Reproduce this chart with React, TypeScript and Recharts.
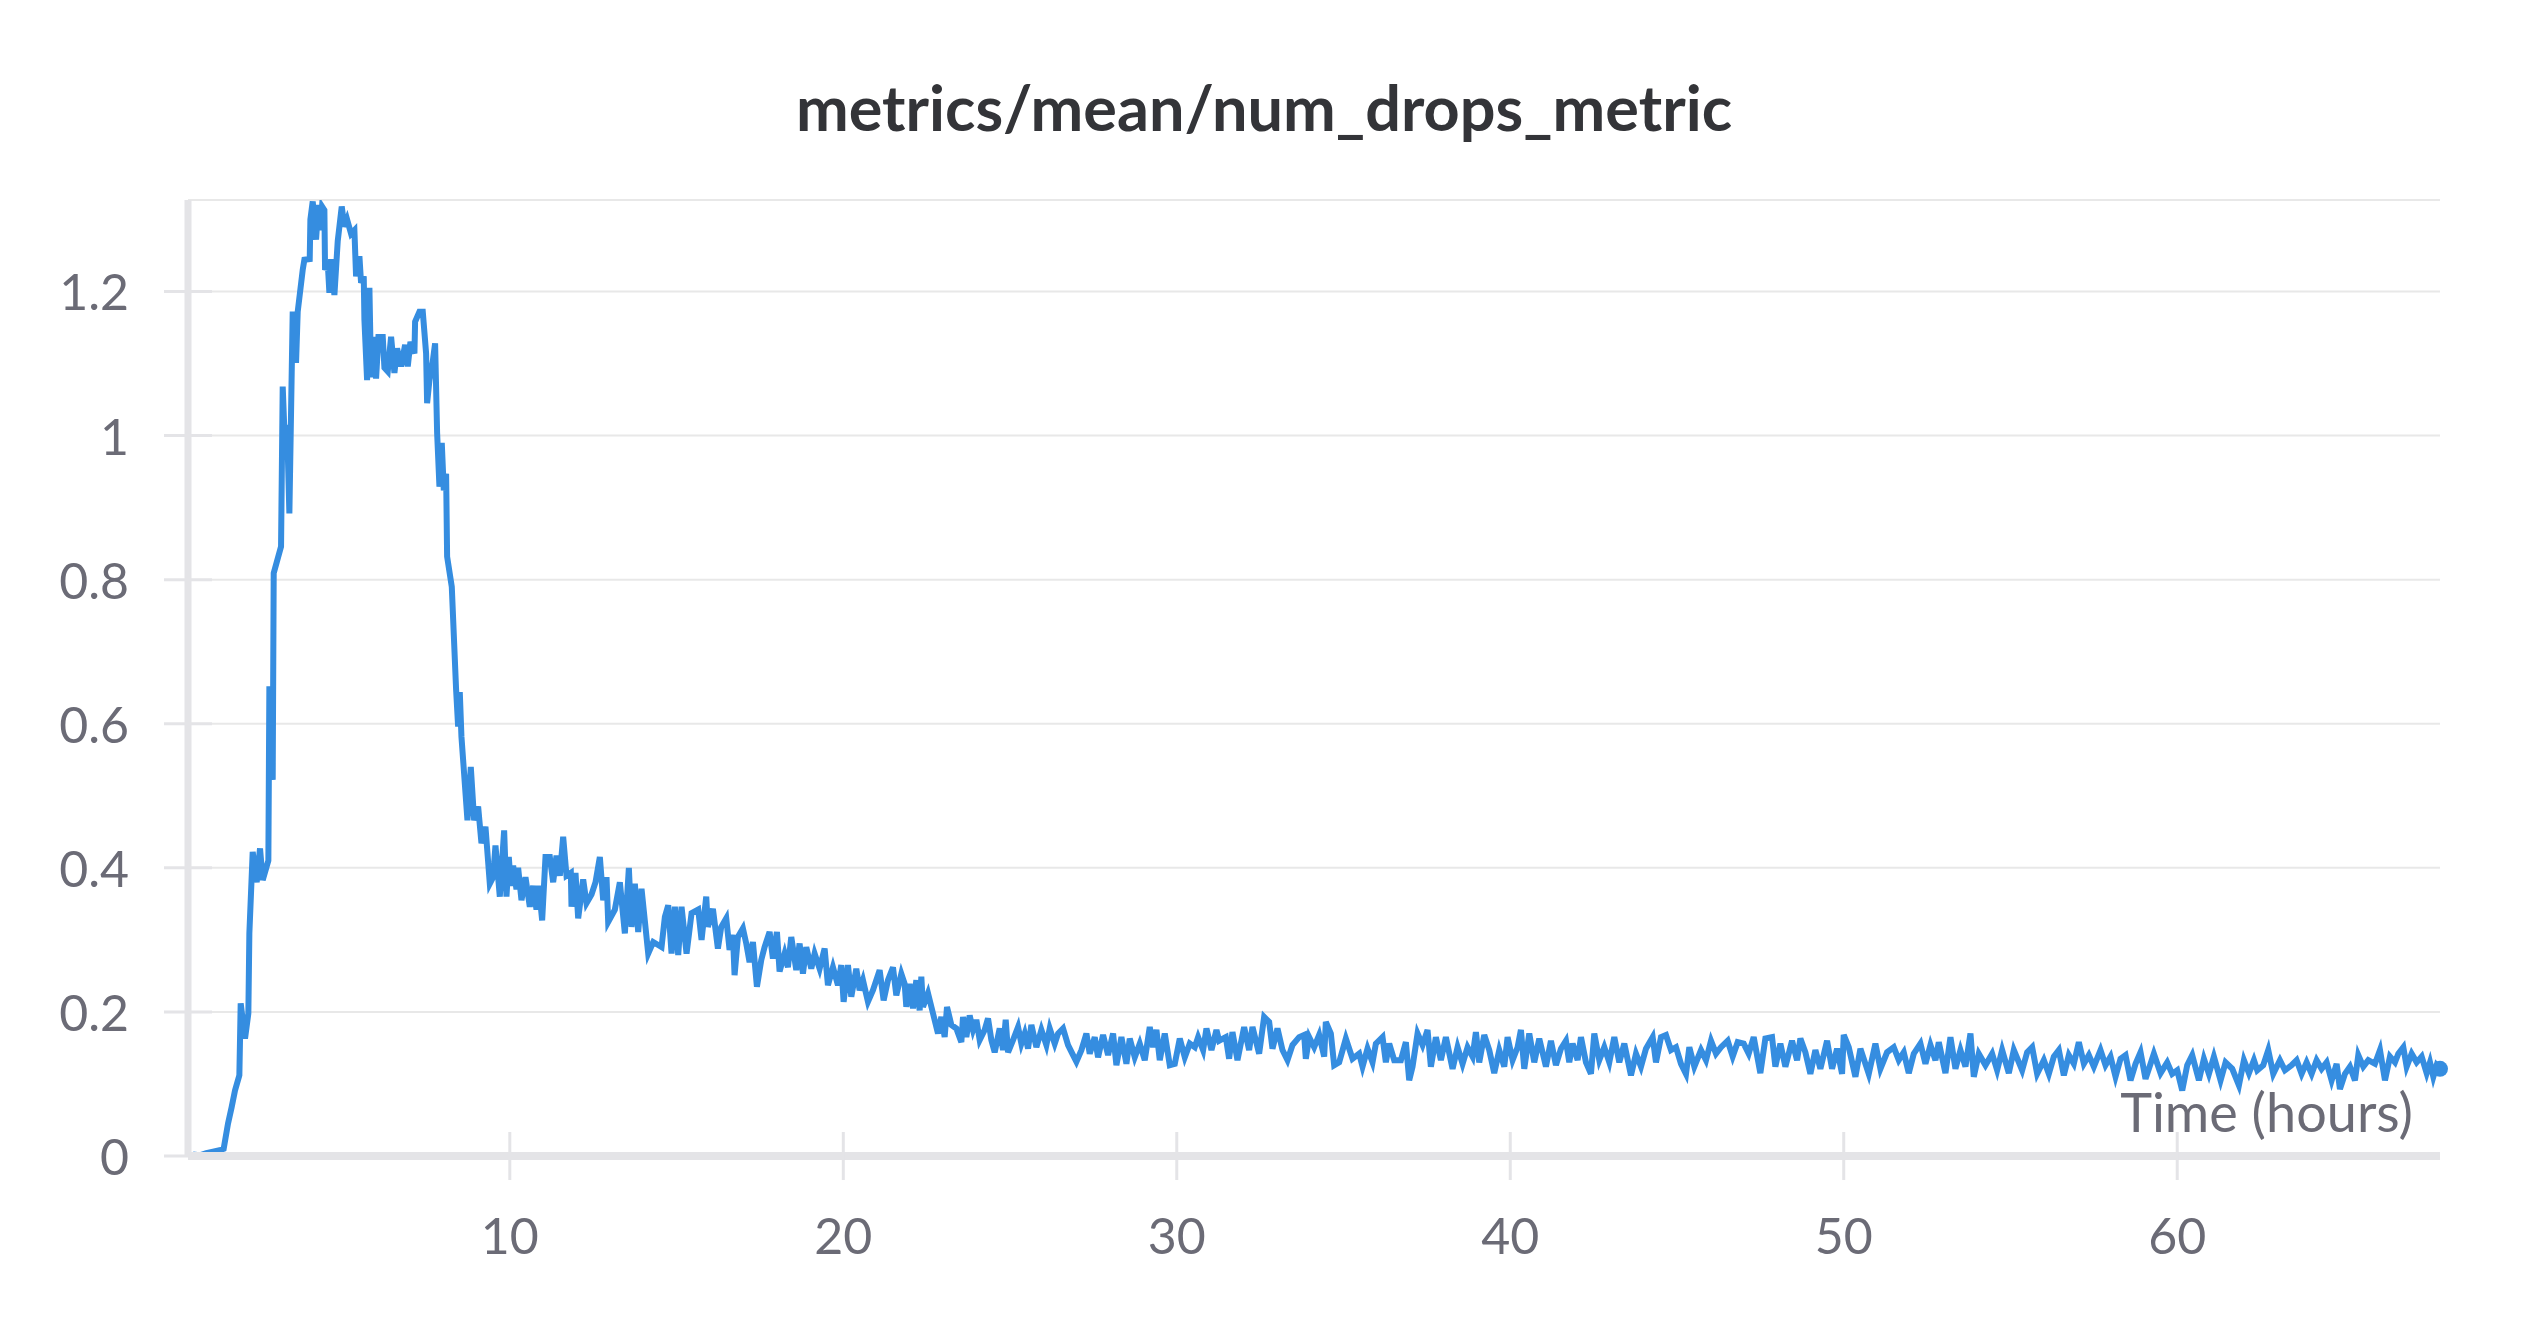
import React from 'react';
import { LineChart, Line, XAxis, YAxis, CartesianGrid, ReferenceDot } from 'recharts';

// [hours, num_drops], split by phase of the run
const RAMP: [number, number][] = [
  [0.5, 0.002], [0.7, 0.001], [0.9, 0.004], [1.1, 0.006], [1.3, 0.008], [1.42, 0.01],
  [1.55, 0.045], [1.66, 0.068], [1.76, 0.091], [1.89, 0.112], [1.93, 0.212], [2.06, 0.163],
  [2.16, 0.198], [2.19, 0.309], [2.29, 0.422], [2.41, 0.38], [2.51, 0.427], [2.59, 0.383],
  [2.76, 0.41], [2.79, 0.652], [2.89, 0.522],
];

const PEAK: [number, number][] = [
  [2.92, 0.809], [3.14, 0.846], [3.19, 1.068], [3.27, 0.971], [3.32, 1.015], [3.39, 0.892],
  [3.49, 1.172], [3.59, 1.101], [3.64, 1.172], [3.79, 1.23], [3.84, 1.244], [4.0, 1.245],
  [4.02, 1.3], [4.09, 1.325], [4.19, 1.272], [4.26, 1.32], [4.32, 1.285], [4.37, 1.318],
  [4.44, 1.313], [4.46, 1.23], [4.54, 1.24], [4.59, 1.198], [4.64, 1.245], [4.74, 1.195],
  [4.84, 1.27], [4.96, 1.318], [5.04, 1.29], [5.12, 1.3], [5.24, 1.28], [5.34, 1.285],
  [5.39, 1.221], [5.49, 1.249], [5.54, 1.212], [5.62, 1.221], [5.64, 1.161], [5.72, 1.077],
  [5.79, 1.205], [5.84, 1.081], [5.94, 1.137], [5.99, 1.079], [6.06, 1.137], [6.19, 1.137],
  [6.24, 1.094], [6.34, 1.089], [6.44, 1.137], [6.54, 1.087], [6.62, 1.121], [6.74, 1.096],
  [6.86, 1.126], [6.94, 1.096], [7.02, 1.13], [7.14, 1.114], [7.16, 1.158], [7.29, 1.172],
  [7.39, 1.172], [7.49, 1.114], [7.52, 1.045], [7.59, 1.077], [7.69, 1.103], [7.76, 1.128],
  [7.82, 1.004], [7.89, 0.929], [7.96, 0.99], [8.02, 0.924], [8.09, 0.947], [8.12, 0.832],
  [8.26, 0.79],
];

const DECAY: [number, number][] = [
  [8.39, 0.647], [8.45, 0.596], [8.5, 0.644], [8.55, 0.582], [8.73, 0.466], [8.83, 0.54],
  [8.93, 0.466], [9.05, 0.485], [9.15, 0.434], [9.27, 0.457], [9.4, 0.378], [9.5, 0.387],
  [9.57, 0.431], [9.7, 0.36], [9.83, 0.452], [9.9, 0.36], [9.97, 0.415], [10.03, 0.375],
  [10.1, 0.403], [10.2, 0.37], [10.25, 0.4], [10.35, 0.355], [10.47, 0.387], [10.6, 0.346],
  [10.7, 0.375], [10.8, 0.342], [10.87, 0.375], [10.97, 0.327], [11.07, 0.415], [11.2, 0.415],
  [11.3, 0.38], [11.4, 0.417], [11.5, 0.389], [11.6, 0.443], [11.7, 0.389], [11.83, 0.393],
  [11.85, 0.346], [11.97, 0.393], [12.05, 0.33], [12.2, 0.384], [12.3, 0.351], [12.45, 0.363],
  [12.57, 0.38], [12.7, 0.415], [12.8, 0.355], [12.9, 0.387], [12.95, 0.325], [13.15, 0.342],
  [13.3, 0.38], [13.45, 0.309], [13.57, 0.4], [13.65, 0.318], [13.75, 0.378], [13.85, 0.311],
  [13.95, 0.371], [14.15, 0.281], [14.3, 0.297], [14.55, 0.29], [14.65, 0.332], [14.75, 0.348],
  [14.85, 0.281], [14.95, 0.346], [15.05, 0.279], [15.15, 0.346], [15.3, 0.281], [15.45, 0.337],
  [15.65, 0.342], [15.75, 0.3],
];

const SLOPE: [number, number][] = [
  [15.89, 0.36], [15.94, 0.318], [16.09, 0.343], [16.24, 0.288], [16.34, 0.318], [16.49, 0.33],
  [16.59, 0.286], [16.69, 0.307], [16.74, 0.251], [16.84, 0.304], [16.99, 0.316], [17.09, 0.295],
  [17.19, 0.269], [17.29, 0.297], [17.41, 0.235], [17.54, 0.272], [17.64, 0.29], [17.79, 0.311],
  [17.89, 0.274], [18.01, 0.311], [18.09, 0.256], [18.24, 0.281], [18.34, 0.262], [18.44, 0.304],
  [18.59, 0.258], [18.69, 0.295], [18.79, 0.253], [18.89, 0.29], [19.04, 0.26], [19.14, 0.281],
  [19.29, 0.26], [19.44, 0.288], [19.54, 0.237], [19.69, 0.262], [19.84, 0.237], [19.94, 0.265],
  [20.01, 0.214], [20.14, 0.265], [20.24, 0.221], [20.39, 0.26], [20.49, 0.23], [20.59, 0.244],
  [20.74, 0.214], [20.89, 0.23], [21.09, 0.258], [21.21, 0.216], [21.34, 0.244], [21.49, 0.262],
  [21.59, 0.223], [21.74, 0.253], [21.84, 0.239], [21.89, 0.207], [21.99, 0.239], [22.09, 0.205],
  [22.19, 0.244], [22.29, 0.202], [22.34, 0.249], [22.39, 0.207], [22.54, 0.226], [22.69, 0.198],
  [22.84, 0.17], [22.94, 0.193], [23.04, 0.165], [23.11, 0.207], [23.24, 0.182], [23.39, 0.177],
  [23.54, 0.158], [23.59, 0.193], [23.69, 0.165], [23.79, 0.195], [23.89, 0.175], [23.99, 0.189],
  [24.09, 0.161], [24.24, 0.175], [24.34, 0.191], [24.44, 0.161], [24.54, 0.144], [24.69, 0.177],
  [24.79, 0.147], [24.87, 0.189], [24.94, 0.144], [25.09, 0.161], [25.24, 0.179], [25.34, 0.156],
  [25.44, 0.17], [25.54, 0.149], [25.64, 0.182], [25.79, 0.151], [25.94, 0.175], [26.09, 0.154],
  [26.19, 0.177], [26.34, 0.156], [26.44, 0.17], [26.59, 0.177], [26.74, 0.154], [26.89, 0.14],
  [26.99, 0.131], [27.14, 0.147], [27.29, 0.17], [27.39, 0.142], [27.54, 0.165], [27.64, 0.137],
  [27.79, 0.168], [27.94, 0.14], [28.09, 0.17], [28.19, 0.126], [28.34, 0.165], [28.49, 0.128],
  [28.59, 0.163], [28.74, 0.137], [28.89, 0.156], [29.04, 0.133], [29.19, 0.179], [29.29, 0.151],
  [29.39, 0.175], [29.49, 0.133], [29.64, 0.17], [29.79, 0.126], [29.94, 0.128], [30.09, 0.163],
  [30.24, 0.137], [30.39, 0.156], [30.54, 0.151], [30.64, 0.165], [30.79, 0.147], [30.89, 0.177],
  [31.04, 0.147], [31.19, 0.175],
];

const TAIL_A: [number, number][] = [
  [31.27, 0.16], [31.47, 0.165], [31.57, 0.135], [31.67, 0.172], [31.82, 0.133], [32.02, 0.179],
  [32.17, 0.147], [32.27, 0.179], [32.47, 0.142], [32.62, 0.193], [32.77, 0.186], [32.87, 0.149],
  [33.02, 0.177], [33.17, 0.147], [33.32, 0.133], [33.47, 0.154], [33.67, 0.165], [33.82, 0.168],
  [33.87, 0.135], [33.97, 0.165], [34.12, 0.151], [34.27, 0.168], [34.42, 0.138], [34.47, 0.186],
  [34.62, 0.17], [34.72, 0.126], [34.87, 0.13], [35.07, 0.163], [35.27, 0.135], [35.47, 0.142],
  [35.57, 0.124], [35.72, 0.149], [35.87, 0.13], [35.97, 0.156], [36.17, 0.165], [36.27, 0.13],
  [36.37, 0.156], [36.52, 0.133], [36.72, 0.133], [36.87, 0.158], [36.97, 0.105], [37.07, 0.124],
  [37.22, 0.17], [37.37, 0.154], [37.52, 0.175], [37.62, 0.124], [37.77, 0.165], [37.92, 0.133],
  [38.07, 0.165], [38.27, 0.121], [38.42, 0.151], [38.57, 0.128], [38.72, 0.151], [38.87, 0.138],
  [38.97, 0.172], [39.07, 0.13], [39.22, 0.168], [39.37, 0.147], [39.52, 0.115], [39.67, 0.147],
  [39.82, 0.124], [39.92, 0.165], [40.07, 0.133], [40.22, 0.151], [40.32, 0.175], [40.42, 0.121],
  [40.57, 0.17], [40.72, 0.13], [40.87, 0.163], [41.07, 0.124], [41.22, 0.16], [41.37, 0.126],
  [41.52, 0.149], [41.67, 0.16], [41.77, 0.13], [41.87, 0.156], [42.02, 0.133], [42.12, 0.165],
  [42.27, 0.13], [42.42, 0.114], [42.52, 0.17], [42.67, 0.133], [42.82, 0.151], [42.97, 0.13],
  [43.12, 0.165], [43.27, 0.13], [43.42, 0.156], [43.62, 0.112], [43.77, 0.142], [43.92, 0.124],
  [44.07, 0.149], [44.27, 0.165], [44.37, 0.13], [44.52, 0.165], [44.67, 0.168], [44.82, 0.147],
  [44.97, 0.151], [45.12, 0.128], [45.27, 0.114], [45.37, 0.151], [45.52, 0.124], [45.72, 0.147],
  [45.87, 0.133], [46.02, 0.16], [46.17, 0.142], [46.32, 0.151], [46.52, 0.16], [46.67, 0.138],
  [46.82, 0.158],
];

const TAIL_B: [number, number][] = [
  [47.0, 0.156], [47.15, 0.142], [47.3, 0.165], [47.5, 0.115], [47.65, 0.163], [47.85, 0.165],
  [47.95, 0.124], [48.1, 0.156], [48.25, 0.124], [48.45, 0.16], [48.6, 0.133], [48.7, 0.163],
  [48.85, 0.144], [49.0, 0.114], [49.15, 0.147], [49.3, 0.121], [49.5, 0.16], [49.65, 0.121],
  [49.8, 0.149], [49.95, 0.114], [50.0, 0.168], [50.15, 0.151], [50.35, 0.11], [50.5, 0.149],
  [50.75, 0.114], [50.95, 0.156], [51.1, 0.121], [51.3, 0.144], [51.5, 0.151], [51.65, 0.133],
  [51.8, 0.144], [51.95, 0.115], [52.1, 0.142], [52.3, 0.156], [52.45, 0.128], [52.6, 0.154],
  [52.75, 0.133], [52.85, 0.158], [53.05, 0.115], [53.2, 0.165], [53.35, 0.121], [53.5, 0.147],
  [53.65, 0.124], [53.8, 0.17], [53.9, 0.11], [54.05, 0.142], [54.25, 0.126], [54.45, 0.142],
  [54.6, 0.119], [54.75, 0.147], [54.95, 0.115], [55.1, 0.147], [55.35, 0.119], [55.5, 0.144],
  [55.65, 0.151], [55.8, 0.114], [56.0, 0.133], [56.15, 0.114], [56.3, 0.138], [56.45, 0.147],
  [56.6, 0.112], [56.75, 0.14], [56.9, 0.128], [57.05, 0.158], [57.2, 0.128], [57.35, 0.14],
  [57.5, 0.124], [57.7, 0.147], [57.85, 0.126], [58.0, 0.138], [58.15, 0.11], [58.3, 0.135],
  [58.45, 0.14], [58.6, 0.105], [58.75, 0.128], [58.9, 0.144], [59.05, 0.107], [59.3, 0.142],
  [59.5, 0.115], [59.7, 0.13], [59.85, 0.114], [60.0, 0.119], [60.15, 0.091], [60.3, 0.126],
  [60.45, 0.14], [60.65, 0.105], [60.8, 0.135], [60.95, 0.114], [61.1, 0.138], [61.3, 0.105],
  [61.45, 0.13], [61.65, 0.121], [61.85, 0.098], [62.0, 0.133], [62.15, 0.115], [62.3, 0.133],
  [62.4, 0.119],
];

const TAIL_C: [number, number][] = [
  [62.58, 0.126], [62.73, 0.147], [62.88, 0.114], [63.08, 0.133], [63.23, 0.119], [63.43, 0.126],
  [63.58, 0.133], [63.73, 0.114], [63.88, 0.13], [64.03, 0.114], [64.18, 0.133], [64.33, 0.121],
  [64.48, 0.13], [64.63, 0.105], [64.78, 0.128], [64.88, 0.093], [65.03, 0.114], [65.18, 0.124],
  [65.33, 0.105], [65.43, 0.14], [65.58, 0.124], [65.73, 0.133], [65.93, 0.128], [66.08, 0.147],
  [66.23, 0.105], [66.38, 0.138], [66.53, 0.13], [66.63, 0.142], [66.78, 0.151], [66.88, 0.124],
  [67.03, 0.142], [67.18, 0.13], [67.33, 0.138], [67.48, 0.115], [67.58, 0.13], [67.68, 0.11],
  [67.78, 0.126], [67.88, 0.121],
];

const X_TICKS = [10, 20, 30, 40, 50, 60];
const Y_TICKS = [0, 0.2, 0.4, 0.6, 0.8, 1, 1.2];

const data = [...RAMP, ...PEAK, ...DECAY, ...SLOPE, ...TAIL_A, ...TAIL_B, ...TAIL_C].map(
  ([hours, drops]) => ({ hours, drops })
);
const last = data[data.length - 1];

const BLUE = '#358de0';
const AXIS_GRAY = '#e4e4e7';
const LABEL_GRAY = '#6b6b76';
const FONT = 'Lato, "Noto Sans", sans-serif';
const AXIS_X = 188;
const AXIS_Y = 1156;

function YTick(props: any) {
  const { y, payload } = props;
  return (
    <g>
      <line x1={AXIS_X - 24} x2={AXIS_X + 24} y1={y} y2={y} stroke={AXIS_GRAY} strokeWidth={3} />
      <text x={129} y={y} textAnchor="end" dominantBaseline="central" fill={LABEL_GRAY}
        fontSize={50} fontFamily={FONT}>
        {String(payload.value)}
      </text>
    </g>
  );
}

function XTick(props: any) {
  const { x, payload } = props;
  return (
    <g>
      <line x1={x} x2={x} y1={AXIS_Y - 24} y2={AXIS_Y + 24} stroke={AXIS_GRAY} strokeWidth={3} />
      <text x={x} y={1235} textAnchor="middle" dominantBaseline="central" fill={LABEL_GRAY}
        fontSize={50} fontFamily={FONT}>
        {payload.value}
      </text>
    </g>
  );
}

export default function App() {
  return (
    <div style={{ position: 'absolute', left: 0, top: 0, width: 2528, height: 1328, background: '#fff' }}>
      <div
        style={{
          position: 'absolute', left: 0, top: 72, width: 2528, textAlign: 'center',
          fontFamily: FONT, fontWeight: 700, fontSize: 63, lineHeight: '70px', color: '#333438',
        }}
      >
        metrics/mean/num_drops_metric
      </div>
      <LineChart width={2528} height={1328} data={data}
        margin={{ top: 200, right: 88, bottom: 0, left: 0 }}>
        <CartesianGrid vertical={false} stroke="#e8e8e8" strokeWidth={2} />
        <XAxis
          type="number"
          dataKey="hours"
          domain={[0.35, 67.88]}
          allowDataOverflow
          ticks={X_TICKS}
          height={172}
          tickLine={false}
          axisLine={{ stroke: AXIS_GRAY, strokeWidth: 8 }}
          tick={<XTick />}
          label={{
            content: (p: any) => {
              const vb = p.viewBox;
              return (
                <text x={vb.x + vb.width - 27} y={vb.y - 24} textAnchor="end" fill={LABEL_GRAY}
                  fontSize={54} fontFamily={FONT}>
                  Time (hours)
                </text>
              );
            },
          }}
        />
        <YAxis
          type="number"
          domain={[0, 1.327]}
          allowDataOverflow
          ticks={Y_TICKS}
          width={188}
          tickLine={false}
          axisLine={{ stroke: AXIS_GRAY, strokeWidth: 7 }}
          tick={<YTick />}
        />
        <Line
          type="linear"
          dataKey="drops"
          stroke={BLUE}
          strokeWidth={6}
          dot={false}
          activeDot={false}
          isAnimationActive={false}
        />
        <ReferenceDot x={last.hours} y={last.drops} r={8} fill={BLUE} stroke="none" ifOverflow="visible" />
      </LineChart>
    </div>
  );
}
